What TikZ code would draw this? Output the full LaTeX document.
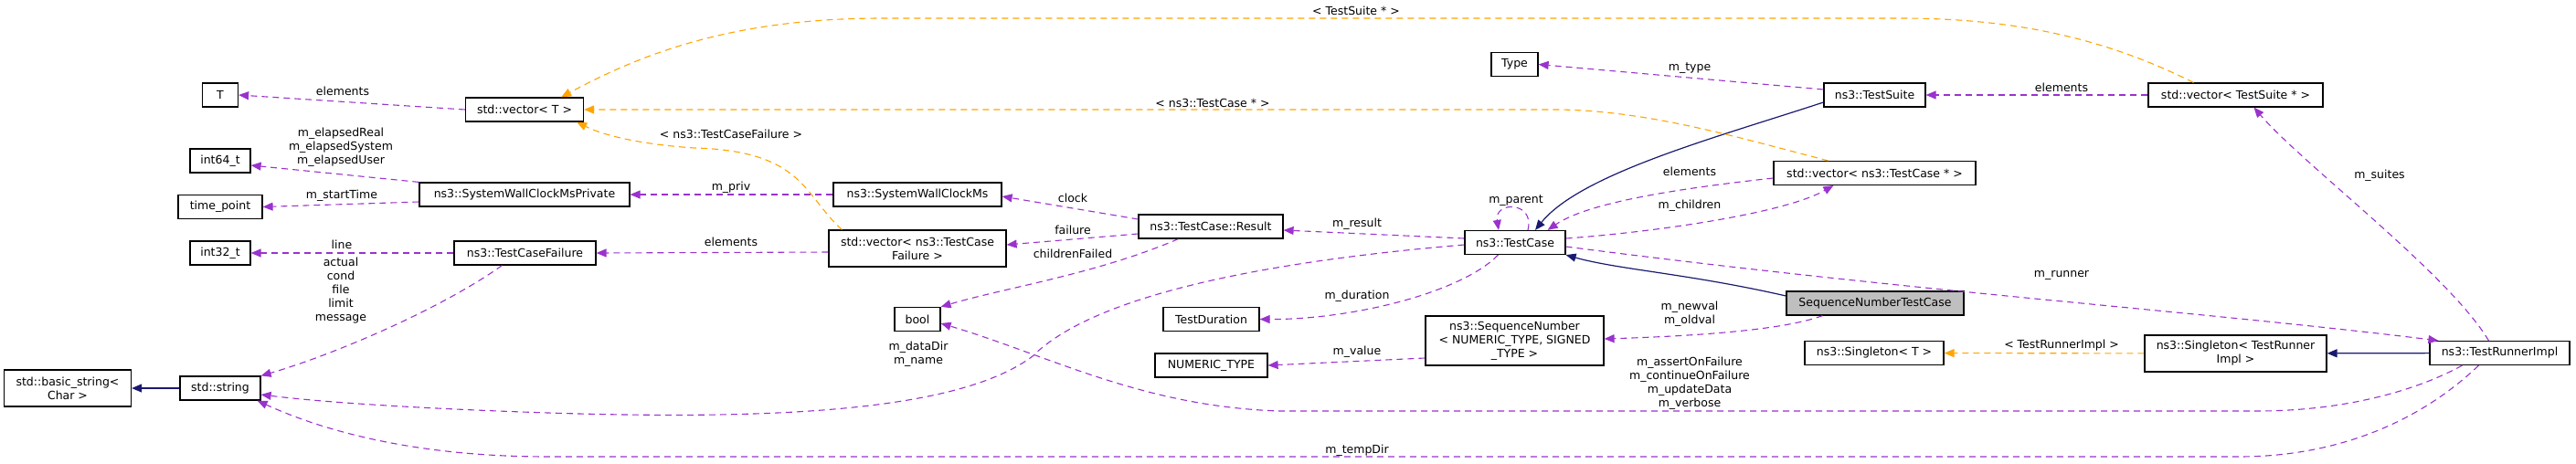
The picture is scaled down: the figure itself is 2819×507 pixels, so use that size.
\documentclass[tikz,border=0pt]{standalone}
\usepackage{fontspec}
\setmainfont{DejaVu Sans}
\usetikzlibrary{arrows.meta,calc}
\definecolor{comp}{HTML}{9A32CD}
\definecolor{tmpl}{HTML}{FFA500}
\definecolor{inh}{HTML}{191970}
\begin{document}
\begin{tikzpicture}[x=1pt,y=-1pt,
  every node/.style={font=\fontsize{12.5}{15}\selectfont},
  box/.style={draw=black,line width=1.2pt,fill=white,inner sep=0pt,minimum height=26pt,align=center},
  lbl/.style={inner sep=0pt,align=center},
  tip/.style={-{Triangle[length=11pt,width=9pt]}},
  cp/.style={tip,draw=comp,color=comp,line width=1.1pt,dash pattern=on 7pt off 5pt},
  tp/.style={tip,draw=tmpl,color=tmpl,line width=1.1pt,dash pattern=on 7pt off 5pt},
  ih/.style={tip,draw=inh,color=inh,line width=1.2pt}]
\useasboundingbox (0,0) rectangle (2819,507);
% nodes
\node[box,minimum width=139pt,minimum height=40pt] (bs) at (74,425) {std::basic\_string<\\Char >};
\node[box,minimum width=88pt] (str) at (241,425) {std::string};
\node[box,minimum width=39pt] (T) at (241,104) {T};
\node[box,minimum width=66pt] (i64) at (241,176) {int64\_t};
\node[box,minimum width=92pt] (tpt) at (241,226.5) {time\_point};
\node[box,minimum width=66pt] (i32) at (241,277) {int32\_t};
\node[box,minimum width=129pt] (vt) at (574,120) {std::vector< T >};
\node[box,minimum width=230pt] (swp) at (574,213) {ns3::SystemWallClockMsPrivate};
\node[box,minimum width=155pt] (tcf) at (574.5,277) {ns3::TestCaseFailure};
\node[box,minimum width=184pt] (swc) at (1004,213) {ns3::SystemWallClockMs};
\node[box,minimum width=194pt,minimum height=40pt] (vtcf) at (1004,272) {std::vector< ns3::TestCase\\Failure >};
\node[box,minimum width=50pt] (bool) at (1004,349.5) {bool};
\node[box,minimum width=158pt] (res) at (1325,248) {ns3::TestCase::Result};
\node[box,minimum width=105pt] (td) at (1325.5,349.5) {TestDuration};
\node[box,minimum width=123pt] (nt) at (1325.5,400) {NUMERIC\_TYPE};
\node[box,minimum width=110pt] (tc) at (1658,265.5) {ns3::TestCase};
\node[box,minimum width=195pt,minimum height=54pt] (seq) at (1657.5,373) {ns3::SequenceNumber\\< NUMERIC\_TYPE, SIGNED\\\_TYPE >};
\node[box,minimum width=51pt] (type) at (1657.5,70.5) {Type};
\node[box,minimum width=111pt] (ts) at (2051.5,104) {ns3::TestSuite};
\node[box,minimum width=191pt] (vts) at (2446.5,104) {std::vector< TestSuite * >};
\node[box,minimum width=221pt] (vtc) at (2051.5,189.5) {std::vector< ns3::TestCase * >};
\node[box,minimum width=194pt,fill=black!25] (sntc) at (2052,332) {SequenceNumberTestCase};
\node[box,minimum width=152pt] (sgt) at (2051,386.5) {ns3::Singleton< T >};
\node[box,minimum width=199pt,minimum height=40pt] (sgr) at (2446.5,387) {ns3::Singleton< TestRunner\\Impl >};
\node[box,minimum width=153pt] (tri) at (2735.5,386.5) {ns3::TestRunnerImpl};
% inheritance
\draw[ih] (str) -- (bs);
\draw[ih] (ts.west|-0,112) .. controls (1880,150) and (1730,190) .. ($(tc.north)+(22,0)$);
\draw[ih] (sntc.west|-0,324) .. controls (1850,300) and (1770,295) .. (tc.south east);
\draw[ih] (tri) -- (sgr);
% templates
\draw[tp] ($(vts.north west)+(50,0)$) .. controls (2300,40) and (2200,20) .. (2080,20) -- (965,20) .. controls (800,20) and (700,60) .. ($(vt.north east)-(25,0)$);
\draw[tp] ($(vtc.north west)+(60,0)$) .. controls (1900,150) and (1800,120) .. (1700,120) -- (vt.east);
\draw[tp] ($(vtcf.north west)+(15,0)$) .. controls (880,215) and (880,165) .. (760,162) .. controls (700,158) and (660,148) .. ($(vt.south east)-(8,0)$);
\draw[tp] (sgr) -- (sgt);
% compositions
\draw[cp] (vt.west) -- (T.east);
\draw[cp] (swp.north west) -- ($(i64.east)+(0,5)$);
\draw[cp] ($(swp.west)+(0,8)$) -- (tpt.east);
\draw[cp] (swc) -- (swp);
\draw[cp] (tcf) -- (i32);
\draw[cp] ($(tcf.south west)+(53,0)$) .. controls (480,340) and (360,390) .. ($(str.north east)+(0,0)$);
\draw[cp] (vtcf.west|-0,276) -- (tcf.east);
\draw[cp] ($(res.west)+(0,-8)$) -- ($(swc.east)+(0,2)$);
\draw[cp] ($(res.west)+(0,8)$) -- ($(vtcf.east)+(0,-4)$);
\draw[cp] ($(res.south west)+(44,0)$) .. controls (1200,300) and (1100,315) .. (bool.north east);
\draw[cp] (tc.west|-0,261) -- (res.east|-0,252);
\draw[cp] ($(tc.north)+(14,0)$) .. controls (1680,220) and (1635,220) .. ($(tc.north)-(18,0)$);
\draw[cp] ($(tc.south west)+(37,0)$) .. controls (1600,320) and (1480,350) .. (td.east);
\draw[cp] (tc.west|-0,268) .. controls (1400,285) and (1200,320) .. (1130,390) .. controls (1050,450) and (850,460) .. (600,452) .. controls (450,447) and (350,440) .. (str.east|-0,432);
\draw[cp] (ts.west|-0,98) -- (type.east);
\draw[cp] (vtc.west|-0,195) .. controls (1850,205) and (1740,220) .. ($(tc.north east)-(20,0)$);
\draw[cp] (tc.east|-0,261) .. controls (1800,255) and (1950,235) .. ($(vtc.south west)+(66,0)$);
\draw[cp] (vts) -- (ts);
\draw[cp] ($(sntc.south west)+(40,0)$) .. controls (1950,362) and (1850,368) .. (seq.east|-0,371);
\draw[cp] (seq.west|-0,392) -- (nt.east);
\draw[cp] (tc.east|-0,270) .. controls (2100,320) and (2400,340) .. ($(tri.north west)+(10,0)$);
\draw[cp] ($(tri.north west)+(65,0)$) .. controls (2680,300) and (2520,180) .. ($(vts.south)+(20,0)$);
\draw[cp] ($(tri.south west)+(36,0)$) .. controls (2640,430) and (2560,450) .. (2470,450) -- (1400,450) .. controls (1250,445) and (1150,390) .. (bool.east|-0,354);
\draw[cp] ($(tri.south west)+(54,0)$) .. controls (2650,460) and (2560,500) .. (2450,500) -- (600,500) .. controls (450,500) and (350,470) .. ($(str.south east)-(4,0)$);
% labels
\node[lbl] (l1) at (375,100) {elements};
\node[lbl] (l2) at (373,161) {m\_elapsedReal\\m\_elapsedSystem\\m\_elapsedUser};
\node[lbl] (l3) at (374,214) {m\_startTime};
\node[lbl] (l4) at (800,205) {m\_priv};
\node[lbl] (l5) at (800,147) {< ns3::TestCaseFailure >};
\node[lbl] (l6) at (374,268) {line};
\node[lbl] (l7) at (373,318) {actual\\cond\\file\\limit\\message};
\node[lbl] (l8) at (800,265) {elements};
\node[lbl] (l9) at (1484,12) {< TestSuite * >};
\node[lbl] (l10) at (1327,113) {< ns3::TestCase * >};
\node[lbl] (l11) at (1174,217) {clock};
\node[lbl] (l12) at (1174,252) {failure};
\node[lbl] (l13) at (1174,278) {childrenFailed};
\node[lbl] (l14) at (1485,245) {m\_result};
\node[lbl] (l15) at (1659,220) {m\_parent};
\node[lbl] (l16) at (1485,324) {m\_duration};
\node[lbl] (l17) at (1485,385) {m\_value};
\node[lbl] (l18) at (1005,388) {m\_dataDir\\m\_name};
\node[lbl] (l19) at (1485,493) {m\_tempDir};
\node[lbl] (l20) at (1849,75) {m\_type};
\node[lbl] (l21) at (2256,96) {elements};
\node[lbl] (l22) at (1849,188) {elements};
\node[lbl] (l23) at (1849,225) {m\_children};
\node[lbl] (l24) at (2256,301) {m\_runner};
\node[lbl] (l25) at (2604,192) {m\_suites};
\node[lbl] (l26) at (1849,344) {m\_newval\\m\_oldval};
\node[lbl] (l27) at (2256,378) {< TestRunnerImpl >};
\node[lbl] (l28) at (1849,420) {m\_assertOnFailure\\m\_continueOnFailure\\m\_updateData\\m\_verbose};
\end{tikzpicture}
\end{document}
